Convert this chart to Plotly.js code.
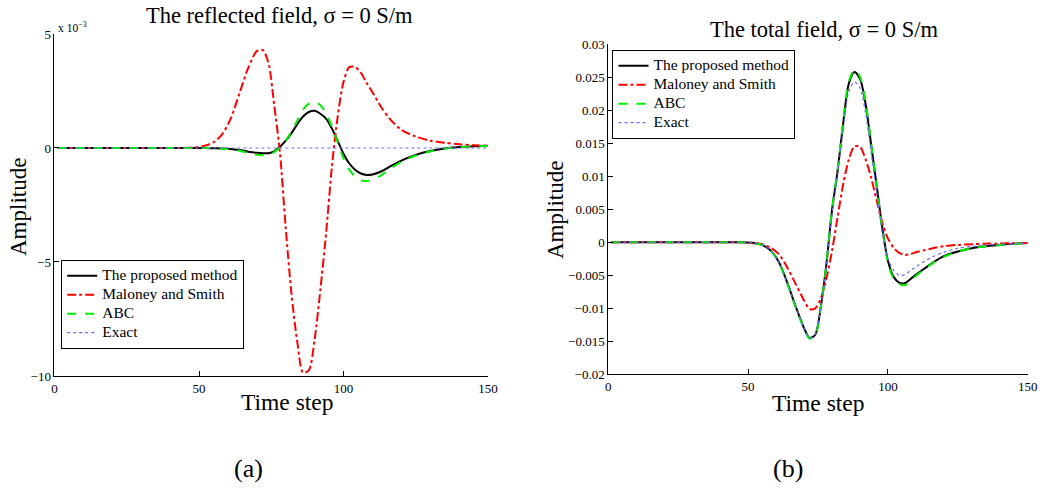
<!DOCTYPE html>
<html>
<head>
<meta charset="utf-8">
<script src="https://cdn.plot.ly/plotly-3.0.1.min.js"></script>
<style>html,body{margin:0;padding:0;background:#fff;}#chart{width:1050px;height:490px;}</style>
</head>
<body>
<div id="chart"></div>
<script>
// Time steps
const timeSteps = [1, 20, 40, 48, 52, 55, 58, 61, 64, 67, 70, 72, 74, 76, 78, 80, 82, 84, 86, 88, 90, 92, 94, 96, 98, 100, 102, 104, 106, 108, 110, 113, 116, 120, 125, 130, 135, 140, 145, 150];

// (a) Reflected field, units of 1e-3
const reflProposed = [0, 0, 0, 0, 0, -0.01, -0.02, -0.04, -0.09, -0.16, -0.21, -0.23, -0.23, -0.15, 0.05, 0.32, 0.65, 1.05, 1.38, 1.58, 1.63, 1.5, 1.28, 0.85, 0.3, -0.25, -0.68, -0.95, -1.12, -1.18, -1.16, -1.03, -0.82, -0.55, -0.3, -0.13, -0.02, 0.04, 0.08, 0.1];
const reflMaloney = [0, 0, 0, 0.02, 0.1, 0.25, 0.6, 1.3, 2.4, 3.5, 4.25, 4.3, 3.75, 1.9, -0.2, -3.5, -6.4, -8.5, -9.85, -9.75, -8.4, -6.2, -3.7, -0.8, 1.4, 2.9, 3.55, 3.55, 3.3, 2.85, 2.45, 1.8, 1.28, 0.8, 0.5, 0.32, 0.23, 0.16, 0.12, 0.1];
const reflABC = [0, 0, 0, 0, 0, -0.01, -0.03, -0.06, -0.12, -0.22, -0.3, -0.32, -0.29, -0.18, 0.02, 0.32, 0.72, 1.2, 1.68, 1.95, 2.02, 1.88, 1.52, 0.92, 0.25, -0.45, -0.95, -1.25, -1.42, -1.45, -1.4, -1.2, -0.92, -0.6, -0.33, -0.15, -0.03, 0.04, 0.07, 0.09];
const reflExact = [0, 0, 0, 0, 0, 0, 0, 0, 0, 0, 0, 0, 0, 0, 0, 0, 0, 0, 0, 0, 0, 0, 0, 0, 0, 0, 0, 0, 0, 0, 0, 0, 0, 0, 0, 0, 0, 0, 0, 0];

// (b) Total field
const totProposed = [0, 0, 0, 0, -0.0001, -0.0004, -0.0012, -0.003, -0.0061, -0.0097, -0.013, -0.0145, -0.0140, -0.0098, -0.0033, 0.0048, 0.0108, 0.0180, 0.0240, 0.0258, 0.0248, 0.0210, 0.0148, 0.0085, 0.0022, -0.0028, -0.0052, -0.0061, -0.0062, -0.0056, -0.0049, -0.0040, -0.0031, -0.0021, -0.0014, -0.0009, -0.0006, -0.0004, -0.0002, -0.0001];
const totMaloney = [0, 0, 0, 0, -0.0001, -0.0003, -0.0008, -0.0018, -0.0038, -0.0063, -0.0088, -0.0101, -0.0100, -0.0085, -0.0055, -0.0013, 0.0038, 0.0088, 0.0125, 0.0145, 0.0145, 0.0126, 0.0098, 0.0063, 0.0030, 0.0006, -0.0008, -0.0016, -0.0019, -0.0018, -0.0015, -0.0012, -0.0009, -0.0006, -0.0004, -0.0003, -0.0002, -0.0002, -0.0001, -0.0001];
const totABC = [0, 0, 0, 0, -0.0001, -0.0004, -0.0012, -0.003, -0.0062, -0.0098, -0.0131, -0.0146, -0.0141, -0.0099, -0.0033, 0.0049, 0.0110, 0.0183, 0.0243, 0.0261, 0.0251, 0.0212, 0.0149, 0.0085, 0.0020, -0.0031, -0.0055, -0.0063, -0.0065, -0.0059, -0.0051, -0.0041, -0.0032, -0.0022, -0.0014, -0.0009, -0.0006, -0.0004, -0.0002, -0.0001];
const totExact = [0, 0, 0, 0, -0.0001, -0.0004, -0.0012, -0.003, -0.0062, -0.0097, -0.013, -0.0145, -0.0139, -0.0100, -0.0036, 0.0043, 0.0102, 0.0170, 0.0228, 0.0243, 0.0234, 0.0196, 0.0136, 0.0075, 0.0015, -0.0025, -0.0042, -0.0050, -0.0049, -0.0043, -0.0037, -0.0029, -0.0022, -0.0015, -0.0009, -0.0006, -0.0004, -0.0003, -0.0002, -0.0001];

const seriesNames = ["The proposed method", "Maloney and Smith", "ABC", "Exact"];
const xTicks = [0, 50, 100, 150];
const yTicksA = [-10, -5, 0, 5];
const yTickTextA = ["\u221210", "\u22125", "0", "5"];
const yTicksB = [-0.02, -0.015, -0.01, -0.005, 0, 0.005, 0.01, 0.015, 0.02, 0.025, 0.03];
const yTickTextB = ["\u22120.02", "\u22120.015", "\u22120.01", "\u22120.005", "0", "0.005", "0.01", "0.015", "0.02", "0.025", "0.03"];

const styles = [
  {color: "#000000", width: 2, dash: "solid"},
  {color: "#ff0000", width: 2, dash: "dashdot"},
  {color: "#00ee00", width: 2, dash: "dash"},
  {color: "#6a6aff", width: 1.2, dash: "dot"}
];

const SERIF = "Liberation Serif, Times New Roman, serif";
const legendLabel = (s) => '<span style="font-size:15.5px">' + s + '</span>';
const dataA = [reflProposed, reflMaloney, reflABC, reflExact];
const dataB = [totProposed, totMaloney, totABC, totExact];
const traces = [];
dataA.forEach((ys, i) => traces.push({
  x: timeSteps, y: ys, type: "scatter", mode: "lines", name: legendLabel(seriesNames[i]),
  line: Object.assign({shape: "spline", smoothing: 0.8}, styles[i]),
  xaxis: "x", yaxis: "y", legend: "legend"
}));
dataB.forEach((ys, i) => traces.push({
  x: timeSteps, y: ys, type: "scatter", mode: "lines", name: legendLabel(seriesNames[i]),
  line: Object.assign({shape: "spline", smoothing: 0.8}, styles[i]),
  xaxis: "x2", yaxis: "y2", legend: "legend2"
}));

const axBase = {
  showgrid: false, zeroline: false, showline: true, linecolor: "#000", linewidth: 1,
  ticks: "inside", ticklen: 5, tickcolor: "#000", tickwidth: 1,
  tickfont: {family: SERIF, size: 13, color: "#000"}, mirror: false, fixedrange: true
};

const legBase = {xanchor: "left", yanchor: "top", bgcolor: "#fff", bordercolor: "#000", borderwidth: 1.2,
  font: {family: SERIF, size: 11, color: "#000"}, tracegroupgap: 0, itemwidth: 30};

const layout = {
  width: 1050, height: 490,
  margin: {l: 0, r: 0, t: 0, b: 0},
  paper_bgcolor: "#fff", plot_bgcolor: "#fff",
  font: {family: SERIF, color: "#000"},
  showlegend: true,
  xaxis: Object.assign({}, axBase, {domain: [0.0519, 0.4648], range: [0, 150], tickvals: xTicks, anchor: "y"}),
  yaxis: Object.assign({}, axBase, {domain: [0.2327, 0.9306], range: [-10, 5], tickvals: yTicksA, ticktext: yTickTextA, anchor: "x"}),
  xaxis2: Object.assign({}, axBase, {domain: [0.5793, 0.9788], range: [0, 150], tickvals: xTicks, anchor: "y2"}),
  yaxis2: Object.assign({}, axBase, {domain: [0.2361, 0.9096], range: [-0.02, 0.03], tickvals: yTicksB, ticktext: yTickTextB, anchor: "x2"}),
  legend: Object.assign({}, legBase, {x: 61/1050, y: 1 - 260/490}),
  legend2: Object.assign({}, legBase, {x: 612.3/1050, y: 1 - 50/490}),
  annotations: [
    {text: "The reflected field, \u03c3 = 0 S/m", x: 279.5/1050, y: 1 - 16/490, xref: "paper", yref: "paper", xanchor: "center", yanchor: "middle", showarrow: false, font: {family: SERIF, size: 22.5}},
    {text: "The total field, \u03c3 = 0 S/m", x: 823.5/1050, y: 1 - 30/490, xref: "paper", yref: "paper", xanchor: "center", yanchor: "middle", showarrow: false, font: {family: SERIF, size: 22.5}},
    {text: "x 10<sup>\u22123</sup>", x: 56/1050, y: 1 - 27/490, xref: "paper", yref: "paper", xanchor: "left", yanchor: "middle", showarrow: false, font: {family: SERIF, size: 11.5}},
    {text: "Time step", x: 287.5/1050, y: 1 - 402/490, xref: "paper", yref: "paper", xanchor: "center", yanchor: "middle", showarrow: false, font: {family: SERIF, size: 23.5}},
    {text: "Time step", x: 818/1050, y: 1 - 403/490, xref: "paper", yref: "paper", xanchor: "center", yanchor: "middle", showarrow: false, font: {family: SERIF, size: 23.5}},
    {text: "Amplitude", x: 19/1050, y: 1 - 207/490, xref: "paper", yref: "paper", xanchor: "center", yanchor: "middle", textangle: -90, showarrow: false, font: {family: SERIF, size: 23}},
    {text: "Amplitude", x: 555/1050, y: 1 - 210/490, xref: "paper", yref: "paper", xanchor: "center", yanchor: "middle", textangle: -90, showarrow: false, font: {family: SERIF, size: 23}},
    {text: "(a)", x: 248/1050, y: 1 - 468/490, xref: "paper", yref: "paper", xanchor: "center", yanchor: "middle", showarrow: false, font: {family: SERIF, size: 26}},
    {text: "(b)", x: 788/1050, y: 1 - 468/490, xref: "paper", yref: "paper", xanchor: "center", yanchor: "middle", showarrow: false, font: {family: SERIF, size: 26}}
  ]
};

Plotly.newPlot("chart", traces, layout, {staticPlot: true, displayModeBar: false});
</script>
</body>
</html>
